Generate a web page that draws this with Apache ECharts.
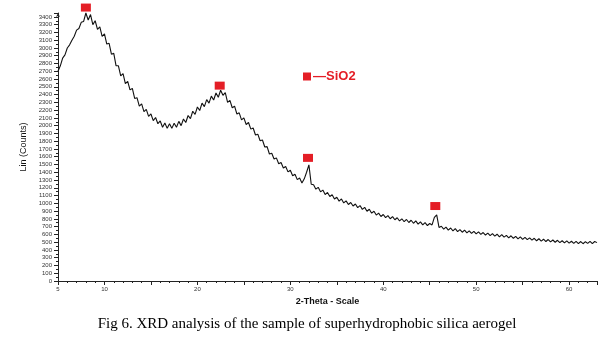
<!DOCTYPE html>
<html><head><meta charset="utf-8">
<script src="https://cdn.jsdelivr.net/npm/echarts@6/dist/echarts.min.js"></script>
<style>html,body{margin:0;padding:0;background:#fff}#c{width:614px;height:364px}</style>
</head><body><div id="c"></div>
<script>
// 2-theta sampling grid
const thetaStart = 5, thetaStep = 0.25;
// Lin (Counts)
const counts = [
2700,2770,2870,2910,3000,3040,3100,3150,3230,3250,3330,3340,3450,3360,3430,3300,
3350,3240,3270,3150,3180,3050,3060,2920,2930,2770,2770,2640,2670,2540,2570,2460,
2480,2350,2360,2250,2280,2180,2210,2120,2150,2065,2105,2025,2060,1980,2035,1965,
2025,1965,2030,1980,2055,2000,2085,2040,2130,2090,2185,2145,2240,2195,2290,2245,
2335,2290,2380,2330,2420,2365,2455,2390,2425,2300,2325,2230,2250,2150,2165,2075,
2100,2015,2040,1955,1970,1880,1890,1805,1815,1725,1730,1635,1645,1570,1585,1510,
1525,1455,1475,1405,1425,1355,1375,1305,1325,1262,1315,1400,1495,1245,1240,1182,
1206,1148,1170,1112,1140,1088,1110,1055,1078,1028,1056,1005,1031,985,1011,965,
991,945,971,922,948,898,924,873,898,849,874,830,856,815,842,801,
828,788,814,773,801,763,792,753,782,743,774,733,762,723,752,714,
740,722,820,850,690,705,668,694,656,682,646,674,636,662,628,654,
620,646,612,640,606,632,600,624,592,616,584,610,578,602,569,596,
564,588,556,582,550,574,542,568,536,562,532,556,526,550,518,544,
514,538,508,534,504,528,499,524,494,518,490,516,488,512,484,510,
482,508,480,506,484,510,482,508,494
];
// SiO2 peak markers
const peakTheta = [8.0, 22.4, 31.9, 45.6];
const peakMark = [3520, 2515, 1585, 965];
const yTicks = {min: 0, max: 3450, interval: 100};
const xTicks = {min: 5, max: 63, interval: 5};

const lineData = counts.map((v, i) => [thetaStart + i * thetaStep, v]);
const markData = peakTheta.map((t, i) => [t, peakMark[i]]);

const chart = echarts.init(document.getElementById('c'), null, {renderer: 'canvas'});
chart.setOption({
  animation: false,
  backgroundColor: '#fff',
  title: {
    text: 'Fig 6. XRD analysis of the sample of superhydrophobic silica aerogel',
    left: 'center', top: 312,
    textStyle: {fontFamily: 'Liberation Serif', fontSize: 15, fontWeight: 'normal', color: '#000'}
  },
  legend: {
    left: 298, top: 65, icon: 'rect', itemWidth: 8, itemHeight: 8, itemGap: 4,
    data: ['SiO2'],
    formatter: () => '\u2014SiO2',
    textStyle: {color: '#e41e26', fontSize: 13, fontWeight: 'bold', fontFamily: 'Liberation Sans', padding: [0, 0, 0, -3]}
  },
  grid: {left: 58, right: 17, top: 13, bottom: 83},
  xAxis: {
    type: 'value', min: xTicks.min, max: xTicks.max, interval: xTicks.interval,
    name: '2-Theta - Scale', nameLocation: 'middle', nameGap: 16,
    nameTextStyle: {fontFamily: 'Liberation Sans', fontSize: 9, fontWeight: 'bold', color: '#111'},
    axisLine: {lineStyle: {color: '#222', width: 1}},
    axisTick: {length: 4, lineStyle: {color: '#222'}},
    minorTick: {show: true, splitNumber: 5, length: 2, lineStyle: {color: '#222'}},
    splitLine: {show: false},
    axisLabel: {
      fontSize: 6, color: '#333', fontFamily: 'Liberation Sans', margin: 5,
      showMaxLabel: false,
      formatter: v => (v === 5 || v % 10 === 0) ? String(v) : ''
    }
  },
  yAxis: {
    type: 'value', min: yTicks.min, max: yTicks.max, interval: yTicks.interval,
    name: 'Lin (Counts)', nameLocation: 'middle', nameGap: 27, nameRotate: 90,
    nameTextStyle: {fontFamily: 'Liberation Sans', fontSize: 9, color: '#111'},
    axisLine: {show: true, symbol: ['none', 'arrow'], symbolSize: [3, 4], lineStyle: {color: '#222', width: 1}},
    axisTick: {show: true, length: 4, lineStyle: {color: '#222'}},
    minorTick: {show: true, splitNumber: 2, length: 2, lineStyle: {color: '#222'}},
    splitLine: {show: false},
    axisLabel: {
      fontSize: 6, color: '#333', fontFamily: 'Liberation Sans', margin: 6,
      showMaxLabel: false,
      formatter: v => (v % 100 === 0) ? String(v) : ''
    }
  },
  series: [
    {
      type: 'line', name: 'pattern', data: lineData, showSymbol: false, symbol: 'none',
      clip: false, lineStyle: {color: '#111', width: 1.1}
    },
    {
      type: 'scatter', name: 'SiO2', data: markData, symbol: 'rect', symbolSize: [10, 8],
      clip: false, itemStyle: {color: '#e41e26', opacity: 1}, z: 5
    }
  ]
});
</script></body></html>
